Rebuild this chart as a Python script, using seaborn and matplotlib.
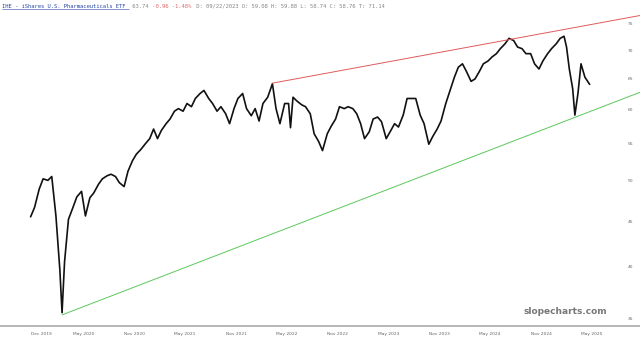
import matplotlib
matplotlib.use("Agg")
import matplotlib.pyplot as plt
import matplotlib.ticker as mticker
from matplotlib.lines import Line2D
import seaborn as sns
import pandas as pd

# ---------------- data ----------------
dates = [
    "2019-12-01", "2019-12-15", "2020-01-01", "2020-01-15", "2020-02-01", "2020-02-15",
    "2020-03-01", "2020-03-15", "2020-03-23", "2020-04-01", "2020-04-15", "2020-05-01",
    "2020-05-15", "2020-06-01", "2020-06-15", "2020-07-01", "2020-07-15", "2020-08-01",
    "2020-08-15", "2020-09-01", "2020-09-15", "2020-10-01", "2020-10-15", "2020-11-01",
    "2020-11-15", "2020-12-01", "2020-12-15", "2021-01-01", "2021-01-15", "2021-02-01",
    "2021-02-15", "2021-03-01", "2021-03-15", "2021-04-01", "2021-04-15", "2021-05-01",
    "2021-05-15", "2021-06-01", "2021-06-15", "2021-07-01", "2021-07-15", "2021-08-01",
    "2021-08-15", "2021-09-01", "2021-09-15", "2021-10-01", "2021-10-15", "2021-11-01",
    "2021-11-15", "2021-12-01", "2021-12-15", "2022-01-01", "2022-01-15", "2022-02-01",
    "2022-02-15", "2022-03-01", "2022-03-15", "2022-04-01", "2022-04-18", "2022-05-01",
    "2022-05-15", "2022-06-01", "2022-06-15", "2022-06-22", "2022-07-01", "2022-07-15",
    "2022-08-01", "2022-08-15", "2022-09-01", "2022-09-15", "2022-10-01", "2022-10-15",
    "2022-11-01", "2022-11-15", "2022-12-01", "2022-12-15", "2023-01-01", "2023-01-15",
    "2023-02-01", "2023-02-15", "2023-03-01", "2023-03-15", "2023-04-01", "2023-04-15",
    "2023-05-01", "2023-05-15", "2023-06-01", "2023-06-15", "2023-07-01", "2023-07-15",
    "2023-08-01", "2023-08-15", "2023-09-01", "2023-09-15", "2023-10-01", "2023-10-15",
    "2023-11-01", "2023-11-15", "2023-12-01", "2023-12-15", "2024-01-01", "2024-01-15",
    "2024-02-01", "2024-02-15", "2024-03-01", "2024-03-15", "2024-04-01", "2024-04-15",
    "2024-05-01", "2024-05-15", "2024-06-01", "2024-06-15", "2024-07-01", "2024-07-15",
    "2024-08-01", "2024-08-15", "2024-09-01", "2024-09-15", "2024-10-01", "2024-10-15",
    "2024-11-01", "2024-11-15", "2024-12-01", "2024-12-15", "2025-01-01", "2025-01-15",
    "2025-02-01", "2025-02-15", "2025-03-01", "2025-03-10", "2025-03-20", "2025-04-01",
    "2025-04-09", "2025-04-20", "2025-05-01", "2025-05-15", "2025-06-01",
]
close = [
    45.5, 46.6, 48.9, 50.2, 50.0, 50.5,
    45.6, 39.7, 35.5, 40.5, 45.2, 46.6,
    47.9, 48.6, 45.6, 47.8, 48.4, 49.5,
    50.2, 50.6, 50.8, 50.5, 49.7, 49.2,
    51.2, 52.6, 53.5, 54.2, 54.9, 55.7,
    57.1, 55.7, 56.9, 57.9, 58.6, 59.8,
    60.2, 59.8, 61.0, 60.5, 61.8, 62.6,
    63.1, 61.8, 61.0, 59.8, 60.5, 59.4,
    57.9, 60.2, 61.8, 62.6, 60.2, 59.1,
    60.2, 58.3, 61.0, 62.0, 64.2, 60.2,
    57.9, 61.0, 61.0, 57.3, 62.0, 61.4,
    60.8, 60.5, 59.4, 56.4, 55.3, 54.0,
    56.4, 57.5, 58.6, 60.5, 60.2, 60.5,
    60.2, 59.4, 57.9, 55.7, 56.7, 58.6,
    58.9, 58.2, 55.7, 56.7, 57.9, 57.4,
    59.2, 61.8, 61.8, 61.8, 59.2, 57.9,
    54.9, 56.0, 57.1, 58.3, 61.0, 62.9,
    65.3, 67.0, 67.6, 66.3, 64.6, 65.0,
    66.3, 67.6, 68.1, 68.8, 69.4, 70.3,
    71.2, 72.2, 71.8, 70.6, 70.3, 69.4,
    69.4, 67.6, 66.7, 68.1, 69.4, 70.3,
    71.2, 72.2, 72.6, 70.6, 66.7, 63.4,
    59.2, 62.6, 67.6, 65.3, 64.1,
]

# trend lines (start/end dates and values)
red_dates = ["2022-04-18", "2025-11-29"]
red_vals = [64.3, 76.6]
green_dates = ["2020-03-23", "2025-11-29"]
green_vals = [35.3, 62.8]

y_ticks = [35, 40, 45, 50, 55, 60, 65, 70, 75]
x_tick_dates = ["2019-12-01", "2020-05-01", "2020-11-01", "2021-05-01", "2021-11-01",
                "2022-05-01", "2022-11-01", "2023-05-01", "2023-11-01", "2024-05-01",
                "2024-11-01", "2025-05-01"]
x_tick_labels = ["Dec 2019", "May 2020", "Nov 2020", "May 2021", "Nov 2021", "May 2022",
                 "Nov 2022", "May 2023", "Nov 2023", "May 2024", "Nov 2024", "May 2025"]

header_parts = [
    ("IHE - iShares U.S. Pharmaceuticals ETF", "#2b47a8"),
    (" 63.74", "#888888"),
    (" -0.96 -1.48%", "#e06a6a"),
    (" D: 09/22/2023 O: 59.08 H: 59.88 L: 58.74 C: 58.76 T: 71.14", "#888888"),
]

# ---------------- figure ----------------
sns.set_style("white")
W, H, DPI = 640, 340, 100
fig = plt.figure(figsize=(W / DPI, H / DPI), dpi=DPI)
ax = fig.add_axes([0, (H - 326) / H, 1, (326 - 12) / H])

df = pd.DataFrame({"date": pd.to_datetime(dates), "close": close})
sns.lineplot(data=df, x="date", y="close", ax=ax, color="#111111", linewidth=1.2)

ax.plot(pd.to_datetime(red_dates), red_vals, color="#e05a5a", linewidth=0.7)
ax.plot(pd.to_datetime(green_dates), green_vals, color="#5cc85c", linewidth=0.7)

ax.set_yscale("log")
ax.set_ylim(34.3, 77.3)
ax.set_xlim(pd.Timestamp("2019-08-13"), pd.Timestamp("2025-11-29"))

ax.yaxis.set_major_locator(mticker.FixedLocator(y_ticks))
ax.yaxis.set_major_formatter(mticker.FixedFormatter([str(v) for v in y_ticks]))
ax.yaxis.set_minor_locator(mticker.NullLocator())
ax.yaxis.tick_right()
ax.tick_params(axis="y", length=0, pad=-9, labelsize=3.2, labelcolor="#666666")

ax.set_xticks(pd.to_datetime(x_tick_dates))
ax.set_xticklabels(x_tick_labels)
ax.tick_params(axis="x", length=0, pad=4, labelsize=3.2, labelcolor="#666666")
for lab in ax.get_xticklabels():
    lab.set_horizontalalignment("left")

ax.set_xlabel("")
ax.set_ylabel("")
for s in ["top", "left", "right"]:
    ax.spines[s].set_visible(False)
ax.spines["bottom"].set_color("#aaaaaa")
ax.spines["bottom"].set_linewidth(1.2)

# header
fs = 4.0
cw = 0.602 * fs * DPI / 72.0
n = 0
for txt, col in header_parts:
    fig.text((2 + n * cw) / W, 1 - 6 / H, txt, fontsize=fs, family="DejaVu Sans Mono",
             color=col, va="center", ha="left")
    n += len(txt)
title_len = len(header_parts[0][0])
fig.add_artist(Line2D([2 / W, (2 + title_len * cw) / W], [1 - 9 / H, 1 - 9 / H],
                      color="#2b47a8", linewidth=0.4))

# watermark
fig.text(607 / W, 1 - 311 / H, "slopecharts.com", fontsize=6.5, fontweight="bold",
         color="#777777", ha="right", va="center")

fig.savefig("out.png", dpi=DPI)
